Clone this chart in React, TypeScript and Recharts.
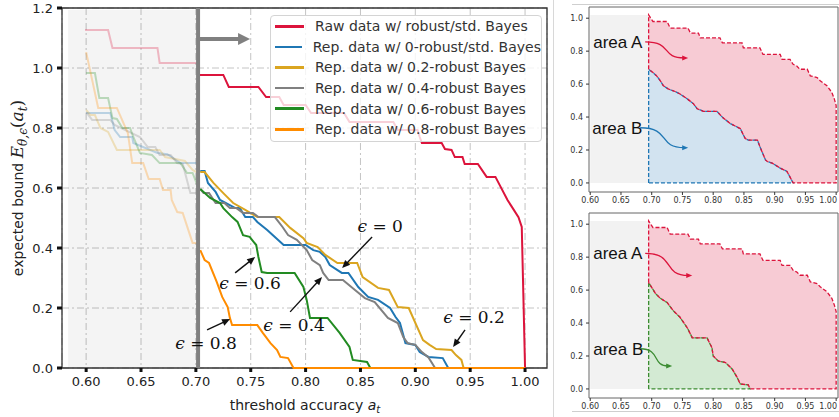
import React from "react";
import {
  LineChart,
  ComposedChart,
  Line,
  Area,
  XAxis,
  YAxis,
  CartesianGrid,
  ReferenceArea,
  ReferenceLine,
  ReferenceDot,
  Legend,
  Label,
} from "recharts";

type Pt = [number, number];

const xTicks = [0.6, 0.65, 0.7, 0.75, 0.8, 0.85, 0.9, 0.95, 1.0];
const yTicks = [0, 0.2, 0.4, 0.6, 0.8, 1.0, 1.2];
const panelYTicks = [0, 0.2, 0.4, 0.6, 0.8, 1.0];

const seriesNames = [
  "Raw data w/ robust/std. Bayes",
  "Rep. data w/ 0-robust/std. Bayes",
  "Rep. data w/ 0.2-robust Bayes",
  "Rep. data w/ 0.4-robust Bayes",
  "Rep. data w/ 0.6-robust Bayes",
  "Rep. data w/ 0.8-robust Bayes",
];
const seriesColors = ["#dc143c", "#1f77b4", "#daa520", "#808080", "#228b22", "#ff8c00"];

// curves left of the cut-off (drawn faded)
const rawFaded: Pt[] = [[0.599, 1.127], [0.62, 1.127], [0.624, 1.067], [0.665, 1.067], [0.667, 1.017], [0.702, 1.017]];
const blueFaded: Pt[] = [[0.6, 0.85], [0.622, 0.85], [0.626, 0.793], [0.631, 0.77], [0.642, 0.77], [0.643, 0.75], [0.665, 0.717], [0.674, 0.713], [0.686, 0.683], [0.702, 0.683]];
const goldFaded: Pt[] = [[0.6, 0.86], [0.604, 0.843], [0.608, 0.843], [0.613, 0.8], [0.62, 0.787], [0.628, 0.727], [0.667, 0.727], [0.672, 0.703], [0.69, 0.69], [0.697, 0.66], [0.702, 0.65]];
const greyFaded: Pt[] = [[0.6, 0.853], [0.6055, 0.827], [0.622, 0.827], [0.626, 0.81], [0.649, 0.77], [0.656, 0.737], [0.663, 0.737], [0.667, 0.71], [0.677, 0.71], [0.683, 0.683], [0.688, 0.68], [0.695, 0.583], [0.702, 0.583]];
const greenFaded: Pt[] = [[0.6, 0.983], [0.608, 0.983], [0.612, 0.9], [0.62, 0.9], [0.624, 0.833], [0.628, 0.83], [0.633, 0.8], [0.64, 0.8], [0.643, 0.77], [0.649, 0.717], [0.66, 0.71], [0.667, 0.683], [0.686, 0.683], [0.692, 0.65], [0.697, 0.65], [0.702, 0.603]];
const orangeFaded: Pt[] = [[0.6, 1.053], [0.611, 0.867], [0.628, 0.867], [0.638, 0.783], [0.642, 0.683], [0.652, 0.683], [0.657, 0.63], [0.667, 0.63], [0.67, 0.593], [0.677, 0.593], [0.678, 0.56], [0.683, 0.52], [0.688, 0.517], [0.697, 0.417], [0.702, 0.417]];

// curves right of the cut-off
const rawSolid: Pt[] = [[0.703, 0.977], [0.725, 0.977], [0.73, 0.937], [0.757, 0.937], [0.764, 0.903], [0.776, 0.903], [0.78, 0.877], [0.8, 0.877], [0.805, 0.85], [0.835, 0.85], [0.84, 0.82], [0.88, 0.82], [0.884, 0.793], [0.902, 0.793], [0.904, 0.77], [0.906, 0.75], [0.924, 0.75], [0.927, 0.73], [0.933, 0.727], [0.936, 0.703], [0.943, 0.703], [0.945, 0.68], [0.957, 0.68], [0.965, 0.637], [0.973, 0.637], [0.984, 0.56], [0.988, 0.537], [0.994, 0.503], [0.997, 0.47], [1.0, 0.0]];
const blueSolid: Pt[] = [[0.704, 0.657], [0.708, 0.657], [0.711, 0.617], [0.718, 0.587], [0.722, 0.56], [0.736, 0.533], [0.74, 0.533], [0.745, 0.503], [0.752, 0.503], [0.756, 0.487], [0.765, 0.46], [0.77, 0.443], [0.78, 0.41], [0.8, 0.41], [0.807, 0.393], [0.813, 0.387], [0.818, 0.37], [0.822, 0.343], [0.833, 0.317], [0.839, 0.317], [0.848, 0.27], [0.857, 0.237], [0.866, 0.227], [0.877, 0.2], [0.882, 0.17], [0.886, 0.15], [0.891, 0.083], [0.9, 0.077], [0.904, 0.053], [0.912, 0.037], [0.925, 0.033], [0.93, 0.0], [1.0, 0.0]];
const goldSolid: Pt[] = [[0.704, 0.653], [0.708, 0.653], [0.716, 0.617], [0.725, 0.583], [0.734, 0.55], [0.745, 0.527], [0.756, 0.503], [0.776, 0.503], [0.786, 0.467], [0.798, 0.433], [0.801, 0.417], [0.811, 0.403], [0.818, 0.377], [0.829, 0.35], [0.847, 0.35], [0.852, 0.303], [0.866, 0.267], [0.876, 0.26], [0.884, 0.203], [0.894, 0.2], [0.907, 0.093], [0.913, 0.077], [0.919, 0.063], [0.933, 0.06], [0.937, 0.043], [0.942, 0.027], [0.944, 0.0], [1.0, 0.0]];
const greySolid: Pt[] = [[0.704, 0.597], [0.707, 0.583], [0.712, 0.583], [0.718, 0.55], [0.726, 0.55], [0.731, 0.533], [0.737, 0.533], [0.743, 0.517], [0.752, 0.517], [0.757, 0.503], [0.772, 0.503], [0.779, 0.47], [0.784, 0.443], [0.792, 0.427], [0.801, 0.393], [0.806, 0.36], [0.813, 0.343], [0.816, 0.317], [0.821, 0.293], [0.834, 0.293], [0.845, 0.26], [0.854, 0.233], [0.863, 0.22], [0.875, 0.167], [0.884, 0.15], [0.889, 0.103], [0.893, 0.083], [0.9, 0.077], [0.906, 0.053], [0.912, 0.035], [0.918, 0.0], [1.0, 0.0]];
const greenSolid: Pt[] = [[0.704, 0.597], [0.713, 0.567], [0.722, 0.55], [0.725, 0.533], [0.733, 0.503], [0.738, 0.487], [0.743, 0.443], [0.749, 0.437], [0.755, 0.41], [0.757, 0.37], [0.76, 0.32], [0.765, 0.317], [0.79, 0.317], [0.798, 0.27], [0.801, 0.227], [0.804, 0.167], [0.82, 0.167], [0.831, 0.117], [0.84, 0.07], [0.843, 0.027], [0.856, 0.02], [0.859, 0.0], [1.0, 0.0]];
const orangeSolid: Pt[] = [[0.704, 0.393], [0.708, 0.36], [0.712, 0.35], [0.719, 0.287], [0.724, 0.237], [0.729, 0.203], [0.731, 0.167], [0.733, 0.143], [0.756, 0.143], [0.761, 0.117], [0.768, 0.083], [0.774, 0.06], [0.777, 0.037], [0.784, 0.033], [0.789, 0.0], [1.0, 0.0]];

const fadedSeries = [rawFaded, blueFaded, goldFaded, greyFaded, greenFaded, orangeFaded];
const solidSeries = [rawSolid, blueSolid, goldSolid, greySolid, greenSolid, orangeSolid];

const cutoff = 0.702;
const arrowY = 1.097;
const arrowTipX = 0.7494;

// epsilon annotations
const epsLabels = ["0", "0.2", "0.4", "0.6", "0.8"];
const epsTextAt: Pt[] = [[0.868, 0.473], [0.9535, 0.17], [0.7895, 0.143], [0.7494, 0.283], [0.7093, 0.083]];
const epsArrowFrom: Pt[] = [[0.8606, 0.437], [0.9453, 0.127], [0.7859, 0.187], [0.7358, 0.317], [0.7102, 0.127]];
const epsArrowTo: Pt[] = [[0.8333, 0.333], [0.9344, 0.07], [0.815, 0.303], [0.754, 0.37], [0.7312, 0.163]];

// small panels
const areaAUpper: Pt[] = [[0.695, 1.02], [0.702, 0.98], [0.725, 0.98], [0.73, 0.94], [0.759, 0.94], [0.763, 0.91], [0.776, 0.91], [0.779, 0.88], [0.811, 0.88], [0.815, 0.85], [0.847, 0.85], [0.849, 0.82], [0.876, 0.82], [0.881, 0.78], [0.909, 0.78], [0.912, 0.75], [0.925, 0.75], [0.93, 0.72], [0.936, 0.71], [0.941, 0.69], [0.953, 0.69], [0.958, 0.65], [0.969, 0.64], [0.974, 0.62], [0.985, 0.59], [0.993, 0.55], [0.997, 0.51], [1.0, 0.47]];
const blueAreaB: Pt[] = [[0.695, 0.69], [0.702, 0.67], [0.708, 0.65], [0.714, 0.62], [0.719, 0.59], [0.727, 0.57], [0.738, 0.555], [0.746, 0.54], [0.758, 0.51], [0.768, 0.48], [0.774, 0.45], [0.784, 0.435], [0.806, 0.435], [0.816, 0.395], [0.828, 0.36], [0.844, 0.33], [0.852, 0.27], [0.857, 0.26], [0.872, 0.26], [0.876, 0.22], [0.885, 0.14], [0.888, 0.13], [0.896, 0.12], [0.909, 0.09], [0.92, 0.07], [0.93, 0.0]];
const greenAreaB: Pt[] = [[0.695, 0.646], [0.706, 0.58], [0.714, 0.55], [0.725, 0.525], [0.735, 0.475], [0.746, 0.435], [0.758, 0.37], [0.766, 0.31], [0.79, 0.31], [0.798, 0.25], [0.8, 0.2], [0.808, 0.17], [0.82, 0.16], [0.831, 0.12], [0.839, 0.07], [0.844, 0.03], [0.857, 0.025], [0.86, 0.0]];

const toRows = (pts: Pt[]) => pts.map(([x, y]) => ({ x, y }));

const straightArrow = (color: string, width: number, head: number, headW: number) => (p: any) => {
  const { x1, y1, x2, y2 } = p;
  const dx = x2 - x1;
  const dy = y2 - y1;
  const len = Math.hypot(dx, dy) || 1;
  const ux = dx / len;
  const uy = dy / len;
  const bx = x2 - ux * head;
  const by = y2 - uy * head;
  return (
    <g>
      <line x1={x1} y1={y1} x2={bx + ux} y2={by + uy} stroke={color} strokeWidth={width} />
      <polygon
        points={`${x2},${y2} ${bx - uy * headW},${by + ux * headW} ${bx + uy * headW},${by - ux * headW}`}
        fill={color}
      />
    </g>
  );
};

const curvedArrow = (color: string) => (p: any) => {
  const { x1, y1, x2, y2 } = p;
  const w = x2 - x1;
  const d = `M${x1},${y1} C${x1 + 0.65 * w},${y1} ${x1 + 0.35 * w},${y2} ${x2 - 4},${y2}`;
  return (
    <g>
      <path d={d} fill="none" stroke={color} strokeWidth={1.3} />
      <polygon points={`${x2},${y2} ${x2 - 6},${y2 - 2.5} ${x2 - 6},${y2 + 2.5}`} fill={color} />
    </g>
  );
};

const renderLegend = () => (
  <div
    style={{
      width: 272,
      height: 127,
      boxSizing: "border-box",
      border: "1px solid #d4d4d4",
      borderRadius: 4,
      background: "rgba(255,255,255,0.8)",
      fontFamily: "DejaVu Sans",
      fontSize: 14,
      color: "#333",
      paddingLeft: 4,
    }}
  >
    {seriesNames.map((n, i) => (
      <div key={n} style={{ display: "flex", alignItems: "center", height: 20.6 }}>
        <span style={{ display: "inline-block", width: 29, height: 2.5, background: seriesColors[i], marginRight: 11 }} />
        <span style={{ whiteSpace: "nowrap" }}>{n}</span>
      </div>
    ))}
  </div>
);

const serif = "DejaVu Serif";

const YTitle = () => (
  <text transform="rotate(-90)" x={-188} y={23} textAnchor="middle" fontFamily="DejaVu Sans" fontSize={14} fill="#222">
    expected bound{" "}
    <tspan fontFamily={serif} fontStyle="italic" fontSize={17}>E</tspan>
    <tspan fontFamily={serif} fontStyle="italic" fontSize={12} dy={4}>θ,ϵ</tspan>
    <tspan fontFamily={serif} fontSize={17} dy={-4}>(</tspan>
    <tspan fontFamily={serif} fontStyle="italic" fontSize={17}>a</tspan>
    <tspan fontFamily={serif} fontStyle="italic" fontSize={12} dy={4}>t</tspan>
    <tspan fontFamily={serif} fontSize={17} dy={-4}>)</tspan>
  </text>
);

const XTitle = () => (
  <text x={305} y={410} textAnchor="middle" fontFamily="DejaVu Sans" fontSize={14} fill="#222">
    threshold accuracy <tspan fontStyle="italic">a</tspan>
    <tspan fontStyle="italic" fontSize={10} dy={3}>t</tspan>
  </text>
);

function MainChart() {
  const tickStyle = { fill: "#222", fontSize: 13, fontFamily: "DejaVu Sans" };
  return (
    <LineChart width={553} height={417} margin={{ top: 8, right: 6, bottom: 0, left: 0 }}>
      <CartesianGrid stroke="#c4c4c4" strokeDasharray="7 3 2 3" />
      <XAxis
        type="number"
        dataKey="x"
        domain={[0.578, 1.02]}
        ticks={xTicks}
        tickFormatter={(v: number) => v.toFixed(2)}
        height={49}
        axisLine={false}
        tickLine={{ stroke: "#111", strokeWidth: 3 }}
        tickSize={4}
        tickMargin={5}
        tick={tickStyle}
      >
        <Label content={() => <XTitle />} />
      </XAxis>
      <YAxis
        type="number"
        domain={[0, 1.2]}
        ticks={yTicks}
        tickFormatter={(v: number) => v.toFixed(1)}
        width={62}
        axisLine={false}
        tickLine={{ stroke: "#111", strokeWidth: 3 }}
        tickSize={5}
        tickMargin={4}
        tick={tickStyle}
      >
        <Label content={() => <YTitle />} />
      </YAxis>
      <ReferenceArea x1={0.5835} x2={0.703} y1={0} y2={1.193} fill="#000" fillOpacity={0.045} stroke="none" />
      <ReferenceArea x1={0.578} x2={1.02} y1={0} y2={1.2} fill="none" stroke="#333" strokeWidth={1.3} />
      {fadedSeries.map((s, i) => (
        <Line
          key={"f" + i}
          data={toRows(s)}
          dataKey="y"
          type="linear"
          stroke={seriesColors[i]}
          strokeOpacity={0.28}
          strokeWidth={2}
          dot={false}
          activeDot={false}
          isAnimationActive={false}
        />
      ))}
      {solidSeries.map((s, i) => (
        <Line
          key={"s" + i}
          data={toRows(s)}
          dataKey="y"
          name={seriesNames[i]}
          type="linear"
          stroke={seriesColors[i]}
          strokeWidth={2}
          dot={false}
          activeDot={false}
          isAnimationActive={false}
        />
      ))}
      <ReferenceLine x={cutoff} stroke="#808080" strokeWidth={4} />
      <ReferenceLine
        segment={[{ x: cutoff, y: arrowY }, { x: arrowTipX, y: arrowY }]}
        shape={straightArrow("#808080", 4, 12, 6)}
      />
      {epsLabels.map((l, i) => (
        <ReferenceLine
          key={"a" + i}
          segment={[
            { x: epsArrowFrom[i][0], y: epsArrowFrom[i][1] },
            { x: epsArrowTo[i][0], y: epsArrowTo[i][1] },
          ]}
          shape={straightArrow("#111", 1.4, 8, 3.5)}
        />
      ))}
      {epsLabels.map((l, i) => (
        <ReferenceDot
          key={"t" + i}
          x={epsTextAt[i][0]}
          y={epsTextAt[i][1]}
          shape={(p: any) => (
            <text x={p.cx} y={p.cy} dy="0.36em" textAnchor="middle" fontFamily={serif} fontSize={17} fill="#111">
              <tspan fontStyle="italic">ϵ</tspan> = {l}
            </text>
          )}
        />
      ))}
      <Legend
        layout="vertical"
        align="center"
        verticalAlign="middle"
        content={renderLegend}
        wrapperStyle={{ left: 270, top: 15, width: 272, height: 127 }}
      />
    </LineChart>
  );
}

interface PanelProps {
  areaB: Pt[];
  color: string;
  fillB: string;
  textA: Pt;
  textB: Pt;
  arrowA: [Pt, Pt];
  arrowB: [Pt, Pt];
}

const PanelXTick = (p: any) => {
  const v: number = p.payload.value;
  const last = v >= 0.999;
  return (
    <text
      x={last ? p.x + 2 : p.x}
      y={p.y}
      dy="0.71em"
      textAnchor={last ? "end" : "middle"}
      fontFamily="DejaVu Sans"
      fontSize={8}
      fill="#333"
    >
      {v.toFixed(2)}
    </text>
  );
};

function AreaPanel({ areaB, color, fillB, textA, textB, arrowA, arrowB }: PanelProps) {
  const red = "#dc143c";
  const last = areaB[areaB.length - 1];
  const outlineA: Pt[] = [[0.695, areaB[0][1]], ...areaAUpper, [1.0, 0], [last[0], 0], ...[...areaB].reverse()];
  const outlineB: Pt[] = [[0.695, 0], ...areaB, [0.695, 0]];
  const tickStyle = { fill: "#333", fontSize: 8, fontFamily: "DejaVu Sans" };
  const txt = (p: any, s: string) => (
    <text x={p.cx} y={p.cy} dy="0.36em" fontFamily="Liberation Sans" fontSize={17} fill="#111">
      {s}
    </text>
  );
  return (
    <ComposedChart width={279} height={206} margin={{ top: 7, right: 1, bottom: 0, left: 0 }}>
      <XAxis
        type="number"
        dataKey="x"
        domain={[0.598, 1.003]}
        ticks={xTicks}
        height={14}
        axisLine={false}
        tickLine={{ stroke: "#333" }}
        tickSize={3}
        tickMargin={2}
        tick={<PanelXTick />}
      />
      <YAxis
        type="number"
        domain={[-0.055, 1.068]}
        ticks={panelYTicks}
        tickFormatter={(v: number) => v.toFixed(1)}
        width={29}
        axisLine={false}
        tickLine={{ stroke: "#333" }}
        tickSize={3}
        tickMargin={3}
        tick={tickStyle}
      />
      <ReferenceArea x1={0.6} x2={0.695} y1={0} y2={1.02} fill="#f2f2f2" fillOpacity={1} stroke="none" />
      <ReferenceArea x1={0.598} x2={1.003} y1={-0.055} y2={1.068} fill="none" stroke="#666" strokeWidth={1} />
      <Area data={toRows(areaAUpper)} dataKey="y" type="linear" baseValue={0} stroke="none" fill={red} fillOpacity={0.22} isAnimationActive={false} dot={false} activeDot={false} />
      <Area data={toRows(areaB)} dataKey="y" type="linear" baseValue={0} stroke="none" fill={fillB} fillOpacity={1} isAnimationActive={false} dot={false} activeDot={false} />
      <Line data={toRows(outlineB)} dataKey="y" type="linear" stroke={color} strokeWidth={1.3} strokeDasharray="4 2" dot={false} activeDot={false} isAnimationActive={false} />
      <Line data={toRows(outlineA)} dataKey="y" type="linear" stroke={red} strokeWidth={1.3} strokeDasharray="4 2" dot={false} activeDot={false} isAnimationActive={false} />
      <ReferenceLine segment={[{ x: arrowA[0][0], y: arrowA[0][1] }, { x: arrowA[1][0], y: arrowA[1][1] }]} shape={curvedArrow(red)} />
      <ReferenceLine segment={[{ x: arrowB[0][0], y: arrowB[0][1] }, { x: arrowB[1][0], y: arrowB[1][1] }]} shape={curvedArrow(color)} />
      <ReferenceDot x={textA[0]} y={textA[1]} shape={(p: any) => txt(p, "area A")} />
      <ReferenceDot x={textB[0]} y={textB[1]} shape={(p: any) => txt(p, "area B")} />
    </ComposedChart>
  );
}

export default function App() {
  return (
    <div style={{ position: "absolute", left: 0, top: 0, width: 839, height: 417, background: "#fff", overflow: "hidden" }}>
      <div style={{ position: "absolute", left: 0, top: 0 }}>
        <MainChart />
      </div>
      <div style={{ position: "absolute", left: 553, top: 0, width: 1, height: 417, background: "#d8d8d8" }} />
      <div style={{ position: "absolute", left: 572, top: 4, width: 267, height: 1, background: "#cfcfcf" }} />
      <div style={{ position: "absolute", left: 572, top: 411, width: 267, height: 1, background: "#cfcfcf" }} />
      <div style={{ position: "absolute", left: 560, top: 0 }}>
        <AreaPanel
          areaB={blueAreaB}
          color="#1f77b4"
          fillB="#d2e3f0"
          textA={[0.6049, 0.857]}
          textB={[0.6033, 0.335]}
          arrowA={[[0.6894, 0.856], [0.7593, 0.759]]}
          arrowB={[[0.6813, 0.335], [0.7593, 0.214]]}
        />
      </div>
      <div style={{ position: "absolute", left: 560, top: 206 }}>
        <AreaPanel
          areaB={greenAreaB}
          color="#3c8c32"
          fillB="#d3ead3"
          textA={[0.6049, 0.823]}
          textB={[0.6049, 0.244]}
          arrowA={[[0.6894, 0.823], [0.7659, 0.689]]}
          arrowB={[[0.6813, 0.244], [0.7333, 0.14]]}
        />
      </div>
    </div>
  );
}
